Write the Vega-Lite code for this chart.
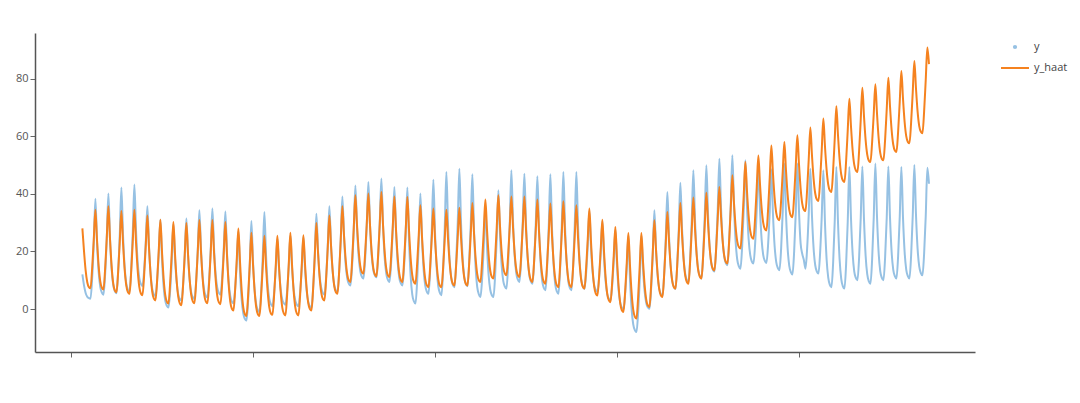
{
"$schema": "https://vega.github.io/schema/vega-lite/v6.json",
"width": 940, "height": 319,
"autosize": "none",
"padding": {"left": 35, "top": 33, "right": 105, "bottom": 51},
"background": "white",
"config": {"view": {"stroke": null}, "font": "Open Sans"},
"data": {"values": [
{"t":0.875,"y":12.0,"h":28.0},
{"t":1,"y":8.2,"h":20.1},{"t":1.125,"y":5.6,"h":13.4},{"t":1.25,"y":4.3,"h":9.3},{"t":1.375,"y":3.8,"h":7.6},{"t":1.5,"y":3.6,"h":7.2},{"t":1.625,"y":10.5,"h":14.0},{"t":1.75,"y":22.7,"h":24.1},{"t":1.875,"y":38.3,"h":34.5},
{"t":2,"y":23.3,"h":24.0},{"t":2.125,"y":13.0,"h":15.1},{"t":2.25,"y":7.7,"h":9.6},{"t":2.375,"y":5.7,"h":7.4},{"t":2.5,"y":5.0,"h":6.8},{"t":2.625,"y":12.0,"h":14.0},{"t":2.75,"y":24.3,"h":24.7},{"t":2.875,"y":40.1,"h":35.7},
{"t":3,"y":24.5,"h":24.3},{"t":3.125,"y":13.8,"h":14.8},{"t":3.25,"y":8.3,"h":8.8},{"t":3.375,"y":6.2,"h":6.4},{"t":3.5,"y":5.5,"h":5.8},{"t":3.625,"y":12.8,"h":12.9},{"t":3.75,"y":25.7,"h":23.3},{"t":3.875,"y":42.2,"h":34.0},
{"t":4,"y":25.9,"h":23.1},{"t":4.125,"y":14.7,"h":13.9},{"t":4.25,"y":8.9,"h":8.2},{"t":4.375,"y":6.7,"h":5.9},{"t":4.5,"y":6.0,"h":5.3},{"t":4.625,"y":13.4,"h":12.6},{"t":4.75,"y":26.5,"h":23.4},{"t":4.875,"y":43.2,"h":34.5},
{"t":5,"y":27.4,"h":23.2},{"t":5.125,"y":16.5,"h":13.7},{"t":5.25,"y":10.8,"h":7.8},{"t":5.375,"y":8.7,"h":5.4},{"t":5.5,"y":8.0,"h":4.8},{"t":5.625,"y":13.5,"h":11.7},{"t":5.75,"y":23.2,"h":22.0},{"t":5.875,"y":35.7,"h":32.5},
{"t":6,"y":21.7,"h":21.3},{"t":6.125,"y":12.0,"h":11.9},{"t":6.25,"y":7.0,"h":6.0},{"t":6.375,"y":5.1,"h":3.6},{"t":6.5,"y":4.5,"h":3.0},{"t":6.625,"y":9.8,"h":10.0},{"t":6.75,"y":19.1,"h":20.4},{"t":6.875,"y":31.0,"h":31.0},
{"t":7,"y":17.3,"h":19.9},{"t":7.125,"y":7.8,"h":10.6},{"t":7.25,"y":2.9,"h":4.8},{"t":7.375,"y":1.1,"h":2.5},{"t":7.5,"y":0.5,"h":1.9},{"t":7.625,"y":6.3,"h":9.0},{"t":7.75,"y":16.5,"h":19.5},{"t":7.875,"y":29.5,"h":30.2},
{"t":8,"y":17.6,"h":19.2},{"t":8.125,"y":9.4,"h":10.0},{"t":8.25,"y":5.1,"h":4.2},{"t":8.375,"y":3.5,"h":1.9},{"t":8.5,"y":3.0,"h":1.3},{"t":8.625,"y":8.7,"h":8.5},{"t":8.75,"y":18.6,"h":19.0},{"t":8.875,"y":31.4,"h":29.9},
{"t":9,"y":18.9,"h":19.3},{"t":9.125,"y":10.2,"h":10.4},{"t":9.25,"y":5.7,"h":4.8},{"t":9.375,"y":4.1,"h":2.6},{"t":9.5,"y":3.5,"h":2.0},{"t":9.625,"y":9.7,"h":9.2},{"t":9.75,"y":20.4,"h":19.9},{"t":9.875,"y":34.3,"h":30.9},
{"t":10,"y":20.7,"h":19.9},{"t":10.125,"y":11.3,"h":10.7},{"t":10.25,"y":6.4,"h":4.9},{"t":10.375,"y":4.6,"h":2.6},{"t":10.5,"y":4.0,"h":2.0},{"t":10.625,"y":10.2,"h":9.2},{"t":10.75,"y":21.0,"h":19.9},{"t":10.875,"y":34.9,"h":30.9},
{"t":11,"y":21.4,"h":19.8},{"t":11.125,"y":12.2,"h":10.5},{"t":11.25,"y":7.4,"h":4.6},{"t":11.375,"y":5.6,"h":2.3},{"t":11.5,"y":5.0,"h":1.7},{"t":11.625,"y":10.8,"h":8.8},{"t":11.75,"y":20.9,"h":19.4},{"t":11.875,"y":33.9,"h":30.2},
{"t":12,"y":19.5,"h":18.5},{"t":12.125,"y":9.7,"h":8.7},{"t":12.25,"y":4.6,"h":2.6},{"t":12.375,"y":2.6,"h":0.1},{"t":12.5,"y":2.0,"h":-0.5},{"t":12.625,"y":7.0,"h":6.6},{"t":12.75,"y":15.8,"h":17.2},{"t":12.875,"y":27.0,"h":28.0},
{"t":13,"y":13.0,"h":16.5},{"t":13.125,"y":3.4,"h":6.7},{"t":13.25,"y":-1.5,"h":0.6},{"t":13.375,"y":-3.4,"h":-1.8},{"t":13.5,"y":-4.0,"h":-2.4},{"t":13.625,"y":2.9,"h":4.8},{"t":13.75,"y":15.0,"h":15.5},{"t":13.875,"y":30.6,"h":26.5},
{"t":14,"y":16.4,"h":15.5},{"t":14.125,"y":6.6,"h":6.3},{"t":14.25,"y":1.5,"h":0.5},{"t":14.375,"y":-0.4,"h":-1.8},{"t":14.5,"y":-1.0,"h":-2.4},{"t":14.625,"y":5.9,"h":4.6},{"t":14.75,"y":18.1,"h":14.8},{"t":14.875,"y":33.7,"h":25.4},
{"t":15,"y":19.0,"h":15.0},{"t":15.125,"y":8.8,"h":6.2},{"t":15.25,"y":3.6,"h":0.7},{"t":15.375,"y":1.7,"h":-1.5},{"t":15.5,"y":1.0,"h":-2.0},{"t":15.625,"y":5.7,"h":4.9},{"t":15.75,"y":13.9,"h":15.0},{"t":15.875,"y":24.5,"h":25.4},
{"t":16,"y":14.2,"h":14.9},{"t":16.125,"y":7.0,"h":6.1},{"t":16.25,"y":3.3,"h":0.6},{"t":16.375,"y":2.0,"h":-1.6},{"t":16.5,"y":1.5,"h":-2.2},{"t":16.625,"y":6.3,"h":5.0},{"t":16.75,"y":14.7,"h":15.6},{"t":16.875,"y":25.5,"h":26.5},
{"t":17,"y":14.5,"h":15.6},{"t":17.125,"y":6.9,"h":6.4},{"t":17.25,"y":3.0,"h":0.7},{"t":17.375,"y":1.5,"h":-1.6},{"t":17.5,"y":1.0,"h":-2.2},{"t":17.625,"y":5.8,"h":4.8},{"t":17.75,"y":14.2,"h":15.0},{"t":17.875,"y":25.0,"h":25.6},
{"t":18,"y":14.0,"h":15.7},{"t":18.125,"y":6.4,"h":7.3},{"t":18.25,"y":2.5,"h":2.1},{"t":18.375,"y":1.0,"h":0.0},{"t":18.5,"y":0.5,"h":-0.5},{"t":18.625,"y":7.0,"h":7.1},{"t":18.75,"y":18.4,"h":18.3},{"t":18.875,"y":33.1,"h":29.9},
{"t":19,"y":20.5,"h":19.7},{"t":19.125,"y":11.7,"h":11.1},{"t":19.25,"y":7.3,"h":5.7},{"t":19.375,"y":5.6,"h":3.5},{"t":19.5,"y":5.0,"h":3.0},{"t":19.625,"y":11.1,"h":10.4},{"t":19.75,"y":21.9,"h":21.3},{"t":19.875,"y":35.7,"h":32.5},
{"t":20,"y":22.3,"h":22.2},{"t":20.125,"y":13.1,"h":13.5},{"t":20.25,"y":8.3,"h":8.0},{"t":20.375,"y":6.5,"h":5.8},{"t":20.5,"y":5.9,"h":5.3},{"t":20.625,"y":12.5,"h":12.9},{"t":20.75,"y":24.2,"h":24.2},{"t":20.875,"y":39.1,"h":35.7},
{"t":21,"y":25.2,"h":25.7},{"t":21.125,"y":15.6,"h":17.3},{"t":21.25,"y":10.7,"h":12.0},{"t":21.375,"y":8.8,"h":9.9},{"t":21.5,"y":8.2,"h":9.4},{"t":21.625,"y":15.1,"h":16.9},{"t":21.75,"y":27.3,"h":28.1},{"t":21.875,"y":42.9,"h":39.5},
{"t":22,"y":28.4,"h":29.2},{"t":22.125,"y":18.4,"h":20.5},{"t":22.25,"y":13.2,"h":15.0},{"t":22.375,"y":11.2,"h":12.8},{"t":22.5,"y":10.6,"h":12.3},{"t":22.625,"y":17.3,"h":19.3},{"t":22.75,"y":29.0,"h":29.5},{"t":22.875,"y":44.1,"h":40.1},
{"t":23,"y":29.2,"h":29.2},{"t":23.125,"y":18.9,"h":20.0},{"t":23.25,"y":13.7,"h":14.3},{"t":23.375,"y":11.7,"h":12.0},{"t":23.5,"y":11.0,"h":11.4},{"t":23.625,"y":17.9,"h":18.7},{"t":23.75,"y":29.9,"h":29.5},{"t":23.875,"y":45.3,"h":40.6},
{"t":24,"y":29.2,"h":29.4},{"t":24.125,"y":18.0,"h":20.0},{"t":24.25,"y":12.3,"h":14.1},{"t":24.375,"y":10.1,"h":11.7},{"t":24.5,"y":9.4,"h":11.1},{"t":24.625,"y":16.0,"h":18.1},{"t":24.75,"y":27.6,"h":28.5},{"t":24.875,"y":42.4,"h":39.1},
{"t":25,"y":27.0,"h":27.8},{"t":25.125,"y":16.4,"h":18.3},{"t":25.25,"y":10.9,"h":12.4},{"t":25.375,"y":8.9,"h":10.0},{"t":25.5,"y":8.2,"h":9.4},{"t":25.625,"y":15.0,"h":16.8},{"t":25.75,"y":26.9,"h":27.7},{"t":25.875,"y":42.2,"h":38.9},
{"t":26,"y":24.1,"h":27.5},{"t":26.125,"y":11.6,"h":17.8},{"t":26.25,"y":5.1,"h":11.8},{"t":26.375,"y":2.7,"h":9.4},{"t":26.5,"y":1.9,"h":8.8},{"t":26.625,"y":9.5,"h":15.6},{"t":26.75,"y":22.9,"h":25.7},{"t":26.875,"y":40.1,"h":36.0},
{"t":27,"y":24.4,"h":25.2},{"t":27.125,"y":13.7,"h":16.1},{"t":27.25,"y":8.1,"h":10.4},{"t":27.375,"y":6.0,"h":8.2},{"t":27.5,"y":5.3,"h":7.6},{"t":27.625,"y":13.2,"h":14.4},{"t":27.75,"y":27.1,"h":24.5},{"t":27.875,"y":44.9,"h":34.9},
{"t":28,"y":26.9,"h":24.5},{"t":28.125,"y":14.4,"h":15.8},{"t":28.25,"y":8.0,"h":10.3},{"t":28.375,"y":5.6,"h":8.1},{"t":28.5,"y":4.8,"h":7.6},{"t":28.625,"y":13.4,"h":14.3},{"t":28.75,"y":28.3,"h":24.3},{"t":28.875,"y":47.6,"h":34.5},
{"t":29,"y":29.6,"h":24.5},{"t":29.125,"y":17.2,"h":16.1},{"t":29.25,"y":10.8,"h":10.8},{"t":29.375,"y":8.4,"h":8.7},{"t":29.5,"y":7.6,"h":8.2},{"t":29.625,"y":15.8,"h":15.0},{"t":29.75,"y":30.2,"h":24.9},{"t":29.875,"y":48.7,"h":35.2},
{"t":30,"y":30.3,"h":24.9},{"t":30.125,"y":17.7,"h":16.3},{"t":30.25,"y":11.2,"h":10.9},{"t":30.375,"y":8.7,"h":8.7},{"t":30.5,"y":7.9,"h":8.2},{"t":30.625,"y":15.7,"h":15.4},{"t":30.75,"y":29.3,"h":25.9},{"t":30.875,"y":46.8,"h":36.8},
{"t":31,"y":27.6,"h":26.4},{"t":31.125,"y":14.4,"h":17.6},{"t":31.25,"y":7.6,"h":12.1},{"t":31.375,"y":5.1,"h":9.9},{"t":31.5,"y":4.2,"h":9.4},{"t":31.625,"y":10.6,"h":16.6},{"t":31.75,"y":21.7,"h":27.1},{"t":31.875,"y":36.0,"h":38.0},
{"t":32,"y":21.7,"h":27.6},{"t":32.125,"y":11.8,"h":18.8},{"t":32.25,"y":6.7,"h":13.3},{"t":32.375,"y":4.8,"h":11.1},{"t":32.5,"y":4.2,"h":10.6},{"t":32.625,"y":11.6,"h":17.8},{"t":32.75,"y":24.6,"h":28.5},{"t":32.875,"y":41.2,"h":39.5},
{"t":33,"y":25.9,"h":28.9},{"t":33.125,"y":15.3,"h":20.0},{"t":33.25,"y":9.8,"h":14.5},{"t":33.375,"y":7.8,"h":12.3},{"t":33.5,"y":7.1,"h":11.7},{"t":33.625,"y":15.3,"h":18.6},{"t":33.75,"y":29.7,"h":28.7},{"t":33.875,"y":48.2,"h":39.1},
{"t":34,"y":30.7,"h":28.5},{"t":34.125,"y":18.7,"h":19.5},{"t":34.25,"y":12.5,"h":13.9},{"t":34.375,"y":10.2,"h":11.7},{"t":34.5,"y":9.4,"h":11.1},{"t":34.625,"y":16.9,"h":18.1},{"t":34.75,"y":30.1,"h":28.5},{"t":34.875,"y":47.0,"h":39.1},
{"t":35,"y":29.8,"h":27.8},{"t":35.125,"y":18.0,"h":18.3},{"t":35.25,"y":11.9,"h":12.4},{"t":35.375,"y":9.6,"h":10.0},{"t":35.5,"y":8.8,"h":9.4},{"t":35.625,"y":16.3,"h":16.6},{"t":35.75,"y":29.3,"h":27.1},{"t":35.875,"y":46.1,"h":38.0},
{"t":36,"y":28.3,"h":26.9},{"t":36.125,"y":16.0,"h":17.6},{"t":36.25,"y":9.7,"h":11.7},{"t":36.375,"y":7.3,"h":9.4},{"t":36.5,"y":6.5,"h":8.8},{"t":36.625,"y":14.6,"h":15.8},{"t":36.75,"y":28.7,"h":26.0},{"t":36.875,"y":46.8,"h":36.6},
{"t":37,"y":28.1,"h":25.6},{"t":37.125,"y":15.3,"h":16.3},{"t":37.25,"y":8.6,"h":10.5},{"t":37.375,"y":6.1,"h":8.2},{"t":37.5,"y":5.3,"h":7.6},{"t":37.625,"y":13.8,"h":15.1},{"t":37.75,"y":28.6,"h":26.1},{"t":37.875,"y":47.6,"h":37.4},
{"t":38,"y":29.1,"h":26.1},{"t":38.125,"y":16.4,"h":16.5},{"t":38.25,"y":9.8,"h":10.6},{"t":38.375,"y":7.3,"h":8.2},{"t":38.5,"y":6.5,"h":7.6},{"t":38.625,"y":14.7,"h":14.7},{"t":38.75,"y":29.1,"h":25.2},{"t":38.875,"y":47.6,"h":36.0},
{"t":39,"y":29.3,"h":25.0},{"t":39.125,"y":16.7,"h":15.8},{"t":39.25,"y":10.3,"h":10.0},{"t":39.375,"y":7.8,"h":7.7},{"t":39.5,"y":7.0,"h":7.1},{"t":39.625,"y":12.4,"h":14.1},{"t":39.75,"y":21.9,"h":24.3},{"t":39.875,"y":34.0,"h":34.9},
{"t":40,"y":21.4,"h":23.4},{"t":40.125,"y":12.7,"h":13.8},{"t":40.25,"y":8.2,"h":7.7},{"t":40.375,"y":6.6,"h":5.3},{"t":40.5,"y":6.0,"h":4.7},{"t":40.625,"y":10.9,"h":11.3},{"t":40.75,"y":19.5,"h":21.0},{"t":40.875,"y":30.5,"h":31.0},
{"t":41,"y":18.1,"h":20.1},{"t":41.125,"y":9.6,"h":11.0},{"t":41.25,"y":5.2,"h":5.3},{"t":41.375,"y":3.6,"h":3.0},{"t":41.5,"y":3.0,"h":2.4},{"t":41.625,"y":7.9,"h":8.9},{"t":41.75,"y":16.5,"h":18.6},{"t":41.875,"y":27.5,"h":28.5},
{"t":42,"y":15.1,"h":17.3},{"t":42.125,"y":6.6,"h":7.9},{"t":42.25,"y":2.2,"h":2.0},{"t":42.375,"y":0.6,"h":-0.4},{"t":42.5,"y":0.0,"h":-1.0},{"t":42.625,"y":5.1,"h":5.9},{"t":42.75,"y":14.0,"h":16.0},{"t":42.875,"y":25.5,"h":26.4},
{"t":43,"y":10.4,"h":15.1},{"t":43.125,"y":0.0,"h":5.6},{"t":43.25,"y":-5.3,"h":-0.3},{"t":43.375,"y":-7.3,"h":-2.7},{"t":43.5,"y":-8.0,"h":-3.3},{"t":43.625,"y":-1.3,"h":4.1},{"t":43.75,"y":10.4,"h":15.1},{"t":43.875,"y":25.5,"h":26.4},
{"t":44,"y":14.1,"h":16.6},{"t":44.125,"y":6.2,"h":8.4},{"t":44.25,"y":2.1,"h":3.3},{"t":44.375,"y":0.6,"h":1.2},{"t":44.5,"y":0.1,"h":0.7},{"t":44.625,"y":6.9,"h":8.2},{"t":44.75,"y":18.9,"h":19.4},{"t":44.875,"y":34.3,"h":30.8},
{"t":45,"y":20.9,"h":20.7},{"t":45.125,"y":11.7,"h":12.2},{"t":45.25,"y":7.0,"h":6.9},{"t":45.375,"y":5.2,"h":4.7},{"t":45.5,"y":4.6,"h":4.2},{"t":45.625,"y":11.8,"h":11.6},{"t":45.75,"y":24.4,"h":22.5},{"t":45.875,"y":40.6,"h":33.7},
{"t":46,"y":25.5,"h":23.6},{"t":46.125,"y":15.1,"h":15.1},{"t":46.25,"y":9.7,"h":9.8},{"t":46.375,"y":7.7,"h":7.6},{"t":46.5,"y":7.0,"h":7.1},{"t":46.625,"y":14.4,"h":14.5},{"t":46.75,"y":27.2,"h":25.5},{"t":46.875,"y":43.8,"h":36.8},
{"t":47,"y":28.3,"h":26.2},{"t":47.125,"y":17.7,"h":17.2},{"t":47.25,"y":12.2,"h":11.6},{"t":47.375,"y":10.1,"h":9.4},{"t":47.5,"y":9.4,"h":8.8},{"t":47.625,"y":17.2,"h":16.3},{"t":47.75,"y":30.7,"h":27.3},{"t":47.875,"y":48.2,"h":38.7},
{"t":48,"y":31.3,"h":28.0},{"t":48.125,"y":19.6,"h":19.0},{"t":48.25,"y":13.6,"h":13.4},{"t":48.375,"y":11.4,"h":11.2},{"t":48.5,"y":10.6,"h":10.6},{"t":48.625,"y":18.5,"h":18.1},{"t":48.75,"y":32.2,"h":29.1},{"t":48.875,"y":49.9,"h":40.4},
{"t":49,"y":33.3,"h":30.1},{"t":49.125,"y":21.9,"h":21.5},{"t":49.25,"y":16.0,"h":16.1},{"t":49.375,"y":13.7,"h":13.9},{"t":49.5,"y":13.0,"h":13.4},{"t":49.625,"y":20.8,"h":20.7},{"t":49.75,"y":34.6,"h":31.4},{"t":49.875,"y":52.2,"h":42.4},
{"t":50,"y":35.6,"h":32.3},{"t":50.125,"y":24.1,"h":23.8},{"t":50.25,"y":18.2,"h":18.5},{"t":50.375,"y":15.9,"h":16.3},{"t":50.5,"y":15.2,"h":15.8},{"t":50.625,"y":22.8,"h":23.5},{"t":50.75,"y":36.2,"h":34.8},{"t":50.875,"y":53.4,"h":46.4},
{"t":51,"y":35.7,"h":36.8},{"t":51.125,"y":23.5,"h":28.6},{"t":51.25,"y":17.2,"h":23.5},{"t":51.375,"y":14.8,"h":21.5},{"t":51.5,"y":14.0,"h":21.0},{"t":51.625,"y":21.5,"h":28.5},{"t":51.75,"y":34.7,"h":39.6},{"t":51.875,"y":51.6,"h":51.0},
{"t":52,"y":35.5,"h":40.9},{"t":52.125,"y":24.4,"h":32.4},{"t":52.25,"y":18.7,"h":27.1},{"t":52.375,"y":16.5,"h":24.9},{"t":52.5,"y":15.8,"h":24.4},{"t":52.625,"y":22.6,"h":31.6},{"t":52.75,"y":34.6,"h":42.3},{"t":52.875,"y":50.0,"h":53.3},
{"t":53,"y":34.7,"h":43.4},{"t":53.125,"y":24.2,"h":35.1},{"t":53.25,"y":18.7,"h":29.9},{"t":53.375,"y":16.7,"h":27.8},{"t":53.5,"y":16.0,"h":27.3},{"t":53.625,"y":22.5,"h":34.7},{"t":53.75,"y":33.9,"h":45.6},{"t":53.875,"y":48.5,"h":56.8},
{"t":54,"y":32.8,"h":46.9},{"t":54.125,"y":21.9,"h":38.6},{"t":54.25,"y":16.3,"h":33.4},{"t":54.375,"y":14.2,"h":31.3},{"t":54.5,"y":13.5,"h":30.8},{"t":54.625,"y":20.9,"h":37.6},{"t":54.75,"y":33.9,"h":47.7},{"t":54.875,"y":50.5,"h":58.0},
{"t":55,"y":33.2,"h":48.1},{"t":55.125,"y":21.2,"h":39.7},{"t":55.25,"y":15.1,"h":34.5},{"t":55.375,"y":12.8,"h":32.4},{"t":55.5,"y":12.0,"h":31.9},{"t":55.625,"y":19.7,"h":39.0},{"t":55.75,"y":33.2,"h":49.5},{"t":55.875,"y":50.5,"h":60.3},
{"t":56,"y":34.1,"h":50.3},{"t":56.125,"y":22.8,"h":41.9},{"t":56.25,"y":19.2,"h":36.6},{"t":56.375,"y":17.0,"h":34.5},{"t":56.5,"y":14.0,"h":34.0},{"t":56.625,"y":20.9,"h":41.3},{"t":56.75,"y":33.1,"h":52.0},{"t":56.875,"y":48.7,"h":63.0},
{"t":57,"y":32.3,"h":53.3},{"t":57.125,"y":21.0,"h":45.2},{"t":57.25,"y":15.2,"h":40.1},{"t":57.375,"y":13.0,"h":38.0},{"t":57.5,"y":12.3,"h":37.5},{"t":57.625,"y":19.5,"h":44.7},{"t":57.75,"y":32.1,"h":55.2},{"t":57.875,"y":48.2,"h":66.1},
{"t":58,"y":29.9,"h":56.4},{"t":58.125,"y":17.3,"h":48.3},{"t":58.25,"y":10.9,"h":43.2},{"t":58.375,"y":8.4,"h":41.1},{"t":58.5,"y":7.6,"h":40.6},{"t":58.625,"y":15.9,"h":48.1},{"t":58.75,"y":30.5,"h":59.1},{"t":58.875,"y":49.3,"h":70.4},
{"t":59,"y":30.3,"h":60.4},{"t":59.125,"y":17.2,"h":52.0},{"t":59.25,"y":10.5,"h":46.7},{"t":59.375,"y":7.9,"h":44.6},{"t":59.5,"y":7.1,"h":44.1},{"t":59.625,"y":15.5,"h":51.3},{"t":59.75,"y":30.3,"h":62.0},{"t":59.875,"y":49.3,"h":73.0},
{"t":60,"y":31.6,"h":63.4},{"t":60.125,"y":19.4,"h":55.2},{"t":60.25,"y":13.1,"h":50.1},{"t":60.375,"y":10.8,"h":48.1},{"t":60.5,"y":10.0,"h":47.6},{"t":60.625,"y":17.9,"h":54.9},{"t":60.75,"y":31.7,"h":65.7},{"t":60.875,"y":49.5,"h":76.8},
{"t":61,"y":31.2,"h":67.0},{"t":61.125,"y":18.6,"h":58.7},{"t":61.25,"y":12.1,"h":53.6},{"t":61.375,"y":9.6,"h":51.5},{"t":61.5,"y":8.8,"h":51.0},{"t":61.625,"y":17.1,"h":57.8},{"t":61.75,"y":31.7,"h":67.7},{"t":61.875,"y":50.5,"h":78.0},
{"t":62,"y":32.3,"h":68.0},{"t":62.125,"y":19.7,"h":59.5},{"t":62.25,"y":13.2,"h":54.2},{"t":62.375,"y":10.8,"h":52.1},{"t":62.5,"y":10.0,"h":51.6},{"t":62.625,"y":17.9,"h":58.8},{"t":62.75,"y":31.7,"h":69.4},{"t":62.875,"y":49.5,"h":80.3},
{"t":63,"y":32.0,"h":70.5},{"t":63.125,"y":19.9,"h":62.2},{"t":63.25,"y":13.7,"h":57.1},{"t":63.375,"y":11.4,"h":55.0},{"t":63.5,"y":10.6,"h":54.5},{"t":63.625,"y":18.3,"h":61.5},{"t":63.75,"y":31.9,"h":71.9},{"t":63.875,"y":49.3,"h":82.6},
{"t":64,"y":31.9,"h":73.1},{"t":64.125,"y":19.9,"h":65.0},{"t":64.25,"y":13.7,"h":60.0},{"t":64.375,"y":11.4,"h":58.0},{"t":64.5,"y":10.6,"h":57.5},{"t":64.625,"y":18.5,"h":64.7},{"t":64.75,"y":32.3,"h":75.2},{"t":64.875,"y":50.0,"h":86.1},
{"t":65,"y":32.8,"h":76.6},{"t":65.125,"y":20.9,"h":68.5},{"t":65.25,"y":14.8,"h":63.5},{"t":65.375,"y":12.5,"h":61.5},{"t":65.5,"y":11.7,"h":61.0},{"t":65.625,"y":19.2,"h":68.5},{"t":65.75,"y":32.2,"h":79.5},{"t":65.875,"y":49.0,"h":90.8},
{"t":66,"y":43.5,"h":85.0}
]},
"encoding": {
  "x": {"field": "t", "type": "quantitative",
        "scale": {"domain": [-2.77, 69.54], "nice": false, "zero": false},
        "axis": {"values": [0, 14, 28, 42, 56], "labels": false, "title": null, "grid": false,
                 "tickSize": 5, "tickColor": "#666", "domainColor": "#555", "domainWidth": 1.5}}
},
"layer": [
  {"mark": {"type": "line", "strokeWidth": 2, "interpolate": "monotone"},
   "encoding": {
     "y": {"field": "y", "type": "quantitative",
           "scale": {"domain": [-14.9, 95.8], "nice": false, "zero": false},
           "axis": {"values": [0, 20, 40, 60, 80], "title": null, "grid": false, "tickSize": 5,
                    "tickColor": "#666", "domainColor": "#555", "domainWidth": 1.5,
                    "labelColor": "#555", "labelFontSize": 11, "labelPadding": 2}},
     "color": {"datum": "y", "type": "nominal",
               "scale": {"domain": ["y", "y_haat"], "range": ["#96c1e3", "#f5821f"]},
               "legend": {"title": null, "orient": "none", "legendX": 965, "legendY": -1,
                          "labelFontSize": 11, "labelColor": "#444", "labelOffset": 4, "rowPadding": -8,
                          "symbolType": "stroke", "symbolStrokeWidth": 2, "symbolSize": 784,
                          "encode": {"symbols": {"update": {
                             "shape": {"signal": "datum.value === 'y' ? 'circle' : 'stroke'"},
                             "size": {"signal": "datum.value === 'y' ? 5 : 784"}}}}}}
   }},
  {"mark": {"type": "line", "strokeWidth": 2, "interpolate": "monotone"},
   "encoding": {
     "y": {"field": "h", "type": "quantitative", "title": null},
     "color": {"datum": "y_haat", "type": "nominal"}
   }}
]
}
